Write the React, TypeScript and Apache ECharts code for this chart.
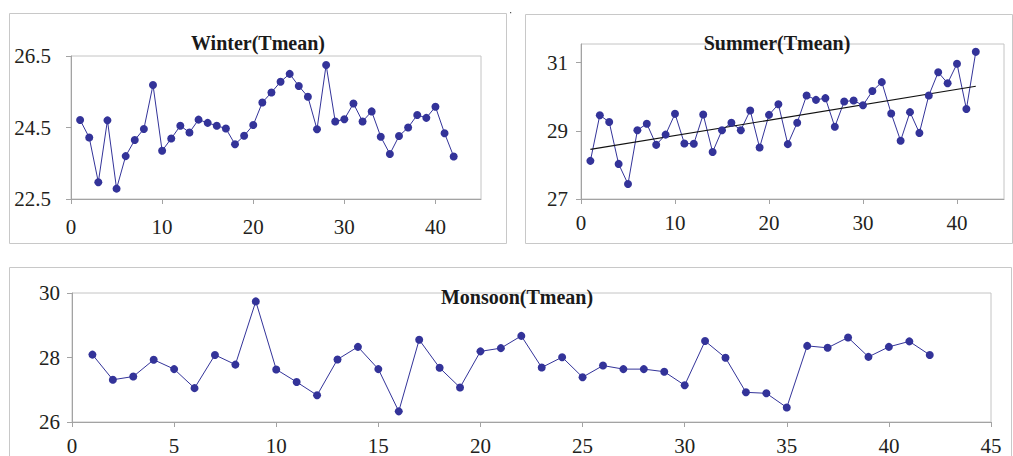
import React, { useEffect, useRef } from "react";
import * as echarts from "echarts";

const years = [
  1, 2, 3, 4, 5, 6, 7, 8, 9, 10, 11, 12, 13, 14, 15, 16, 17, 18, 19, 20, 21,
  22, 23, 24, 25, 26, 27, 28, 29, 30, 31, 32, 33, 34, 35, 36, 37, 38, 39, 40, 41, 42,
];

const winterTmean = [
  24.71, 24.22, 22.97, 24.7, 22.79, 23.7, 24.15, 24.46, 25.69, 23.85, 24.19,
  24.55, 24.36, 24.72, 24.63, 24.55, 24.47, 24.03, 24.27, 24.57, 25.2, 25.48,
  25.78, 26.0, 25.66, 25.36, 24.45, 26.25, 24.67, 24.73, 25.17, 24.67, 24.95,
  24.24, 23.76, 24.26, 24.5, 24.85, 24.77, 25.08, 24.34, 23.69,
];

const summerTmean = [
  28.12, 29.46, 29.26, 28.03, 27.44, 29.02, 29.21, 28.59, 28.89, 29.5, 28.63,
  28.62, 29.48, 28.38, 29.02, 29.24, 29.02, 29.6, 28.51, 29.47, 29.78, 28.61,
  29.24, 30.04, 29.91, 29.96, 29.12, 29.86, 29.89, 29.75, 30.17, 30.43, 29.51,
  28.71, 29.55, 28.94, 30.04, 30.72, 30.4, 30.97, 29.64, 31.32,
];

const monsoonTmean = [
  28.09, 27.31, 27.41, 27.93, 27.64, 27.05, 28.08, 27.78, 29.74, 27.63, 27.24,
  26.83, 27.94, 28.33, 27.64, 26.33, 28.55, 27.68, 27.07, 28.19, 28.29, 28.67,
  27.69, 28.01, 27.39, 27.75, 27.64, 27.64, 27.56, 27.14, 28.51, 27.99, 26.92,
  26.89, 26.45, 28.36, 28.3, 28.62, 28.02, 28.33, 28.5, 28.08,
];

const titles = ["Winter(Tmean)", "Summer(Tmean)", "Monsoon(Tmean)"];

const FONT = "Liberation Serif";
const BLUE = "#333399";
const AXIS = "#a3a3a3";
const BORDER = "#c4c4c4";
const FRAME = "#c8c8c8";
const LABEL = "#231f20";

function pairs(xs: number[], ys: number[]) {
  return xs.map((x, i) => [x, ys[i]]);
}

function trend(xs: number[], ys: number[]) {
  const n = xs.length;
  const mx = xs.reduce((a, b) => a + b, 0) / n;
  const my = ys.reduce((a, b) => a + b, 0) / n;
  let sxy = 0;
  let sxx = 0;
  for (let i = 0; i < n; i++) {
    sxy += (xs[i] - mx) * (ys[i] - my);
    sxx += (xs[i] - mx) * (xs[i] - mx);
  }
  const b = sxy / sxx;
  const a = my - b * mx;
  const x0 = xs[0];
  const x1 = xs[n - 1];
  return [
    [x0, a + b * x0],
    [x1, a + b * x1],
  ];
}

function xAxis(gridIndex: number, interval: number, margin: number, hideMax: boolean) {
  return {
    type: "value",
    gridIndex,
    min: 0,
    max: 45,
    interval,
    axisLine: { show: true, lineStyle: { color: AXIS, width: 1 } },
    axisTick: { show: true, length: 5, lineStyle: { color: AXIS, width: 1 } },
    splitLine: { show: false },
    axisLabel: {
      fontFamily: FONT,
      fontSize: 21,
      color: LABEL,
      margin,
      showMaxLabel: !hideMax,
    },
  };
}

function yAxis(gridIndex: number, min: number, max: number, margin: number, hideMax: boolean) {
  return {
    type: "value",
    gridIndex,
    min,
    max,
    interval: 2,
    axisLine: { show: true, lineStyle: { color: AXIS, width: 1 } },
    axisTick: { show: true, length: 5, lineStyle: { color: AXIS, width: 1 } },
    splitLine: { show: false },
    axisLabel: {
      fontFamily: FONT,
      fontSize: 21,
      color: LABEL,
      margin,
      showMaxLabel: !hideMax,
      showMinLabel: true,
    },
  };
}

function lineSeries(idx: number, data: number[][]) {
  return {
    type: "line",
    xAxisIndex: idx,
    yAxisIndex: idx,
    data,
    symbol: "circle",
    symbolSize: 8,
    showSymbol: true,
    lineStyle: { color: BLUE, width: 1 },
    itemStyle: { color: BLUE },
    emphasis: { disabled: true },
  };
}

function frame(x: number, y: number, w: number, h: number) {
  return {
    type: "rect",
    shape: { x, y, width: w, height: h },
    style: { fill: "none", stroke: FRAME, lineWidth: 1 },
    silent: true,
  };
}

function titleText(text: string, x: number, y: number) {
  return {
    type: "text",
    x,
    y,
    style: {
      text,
      fontFamily: FONT,
      fontSize: 20,
      fontWeight: "bold",
      fill: "#1a1a1a",
      textAlign: "center",
      textVerticalAlign: "middle",
    },
    silent: true,
    z: 100,
  };
}

export default function App() {
  const ref = useRef<HTMLDivElement>(null);

  useEffect(() => {
    if (!ref.current) return;
    const chart = echarts.init(ref.current, undefined, { renderer: "svg" });
    const gridBase = {
      show: true,
      borderColor: BORDER,
      borderWidth: 1,
      backgroundColor: "transparent",
      containLabel: false,
    };
    chart.setOption({
      animation: false,
      backgroundColor: "#ffffff",
      grid: [
        { ...gridBase, left: 71, top: 56, width: 410, height: 143 },
        { ...gridBase, left: 581, top: 44, width: 423, height: 155 },
        { ...gridBase, left: 72, top: 293, width: 919, height: 130 },
      ],
      xAxis: [xAxis(0, 10, 17, true), xAxis(1, 10, 13, true), xAxis(2, 5, 13, false)],
      yAxis: [
        yAxis(0, 22.5, 26.5, 20, false),
        yAxis(1, 27, 31.55, 13, true),
        yAxis(2, 26, 30, 12, false),
      ],
      series: [
        lineSeries(0, pairs(years, winterTmean)),
        lineSeries(1, pairs(years, summerTmean)),
        {
          type: "line",
          xAxisIndex: 1,
          yAxisIndex: 1,
          data: trend(years, summerTmean),
          symbol: "none",
          lineStyle: { color: "#111111", width: 1.2 },
          emphasis: { disabled: true },
          z: 3,
        },
        lineSeries(2, pairs(years, monsoonTmean)),
      ],
      graphic: [
        frame(9.5, 13.5, 497, 230),
        frame(525.5, 14.5, 487, 229),
        frame(9.5, 267.5, 1002, 200),
        titleText(titles[0], 258, 43),
        titleText(titles[1], 777, 43),
        titleText(titles[2], 517, 297),
        {
          type: "rect",
          shape: { x: 510, y: 12, width: 1.2, height: 1.2 },
          style: { fill: "#555555" },
          silent: true,
        },
      ],
    });
    return () => {
      chart.dispose();
    };
  }, []);

  return (
    <div
      ref={ref}
      style={{ position: "fixed", left: 0, top: 0, width: 1013, height: 456 }}
    />
  );
}
